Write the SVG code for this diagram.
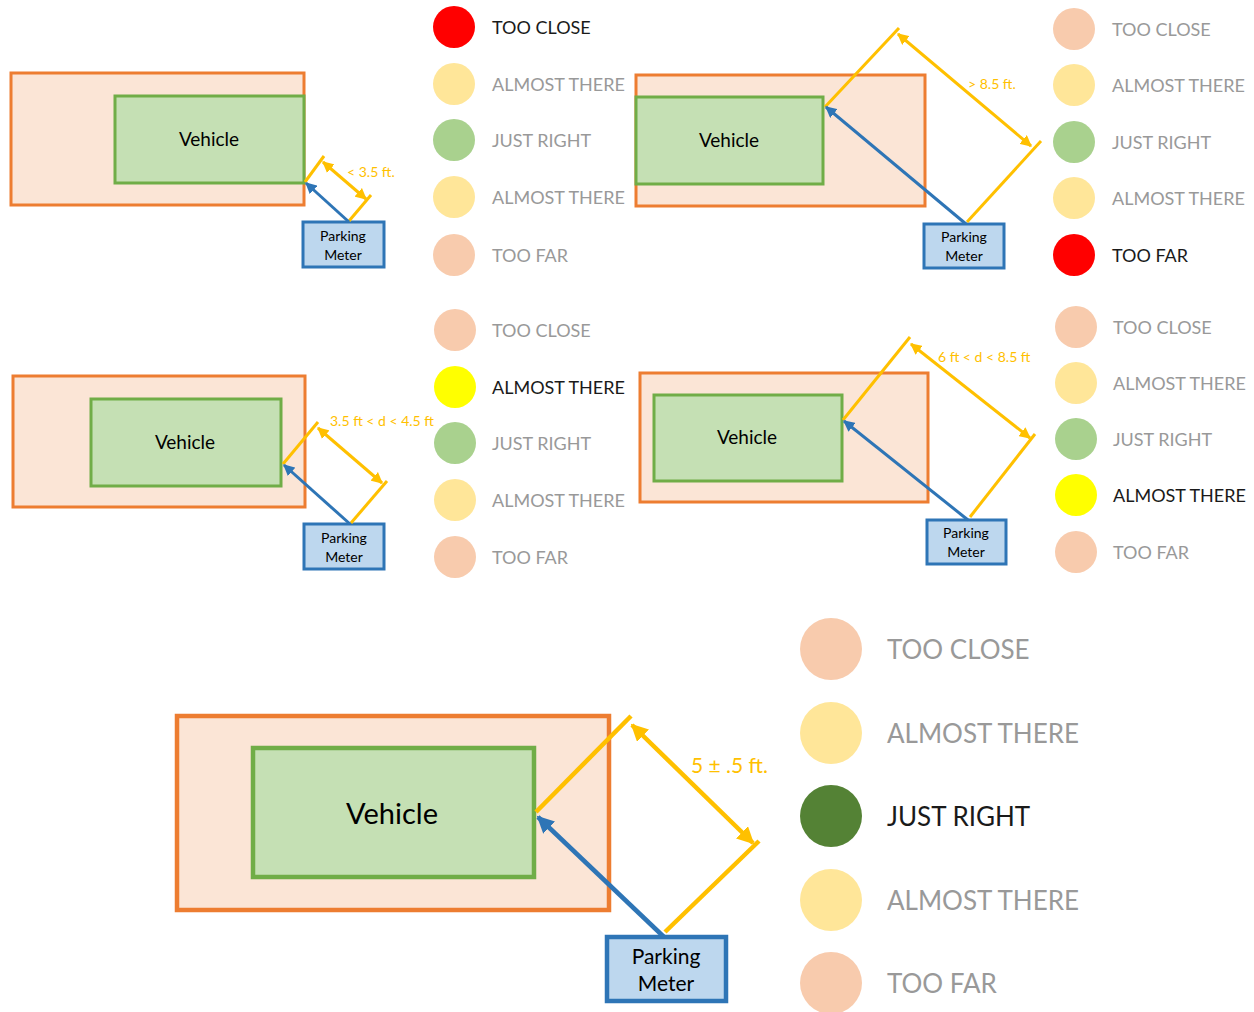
<svg xmlns="http://www.w3.org/2000/svg" width="1254" height="1012" viewBox="0 0 1254 1012">
<style>
text{font-family:Lato,"Open Sans","Liberation Sans",sans-serif}
.car{fill:#FBE5D6;stroke:#ED7D31;stroke-width:3}
.veh{fill:#C5E0B4;stroke:#70AD47;stroke-width:3}
.met{fill:#BDD7EE;stroke:#2E75B6;stroke-width:3}
.vt{font-size:19px;fill:#000;text-anchor:middle}
.mt{font-size:14px;fill:#000;text-anchor:middle}
.yl{stroke:#FFC000;stroke-width:3;fill:none}
.ya{stroke:#FFC000;stroke-width:3;fill:none;marker-start:url(#ya);marker-end:url(#ya)}
.ba{stroke:#2E75B6;stroke-width:3;fill:none;marker-end:url(#ba)}
.lab{fill:#FFC000;font-size:14px}
.lg{font-size:18px;fill:#999}
.on{fill:#1a1a1a}
.big .car,.big .veh,.big .met{stroke-width:4.5}
.big .yl,.big .ya,.big .ba{stroke-width:4.5}
</style>
<defs>
<marker id="ya" viewBox="0 0 10 10" refX="9" refY="5" markerWidth="3.8" markerHeight="3.8" orient="auto-start-reverse"><path d="M0,0L10,5L0,10z" fill="#FFC000"/></marker>
<marker id="ba" viewBox="0 0 10 10" refX="9" refY="5" markerWidth="3.8" markerHeight="3.8" orient="auto"><path d="M0,0L10,5L0,10z" fill="#2E75B6"/></marker>
</defs>
<rect width="1254" height="1012" fill="#fff"/>

<!-- Panel 1 -->
<g id="p1">
<g id="p1-car"><rect class="car" x="11" y="73" width="293" height="132"/></g>
<g id="p1-vehicle"><rect class="veh" x="115" y="96" width="189" height="87"/><text class="vt" x="209" y="146">Vehicle</text></g>
<g id="p1-meter"><rect class="met" x="303" y="222" width="81" height="45"/><text class="mt" x="343" y="241">Parking</text><text class="mt" x="343" y="260">Meter</text></g>
<g id="p1-conn">
<path class="yl" d="M305,182L324,156"/><path class="yl" d="M349,221L371,195"/>
<path class="ya" d="M323,162L366,199"/>
<path class="ba" d="M349,222L306,183"/>
<text class="lab" x="347" y="177">&lt; 3.5 ft.</text>
</g>
</g>
<g id="leg1">
<circle cx="454" cy="27" r="21" fill="#FF0000"/><text class="lg on" x="492" y="34">TOO CLOSE</text>
<circle cx="454" cy="84" r="21" fill="#FFE699"/><text class="lg" x="492" y="91">ALMOST THERE</text>
<circle cx="454" cy="140" r="21" fill="#A9D18E"/><text class="lg" x="492" y="147">JUST RIGHT</text>
<circle cx="454" cy="197" r="21" fill="#FFE699"/><text class="lg" x="492" y="204">ALMOST THERE</text>
<circle cx="454" cy="255" r="21" fill="#F8CBAD"/><text class="lg" x="492" y="262">TOO FAR</text>
</g>

<!-- Panel 2 -->
<g id="p2">
<g id="p2-car"><rect class="car" x="636" y="75" width="289" height="131"/></g>
<g id="p2-vehicle"><rect class="veh" x="636" y="97" width="187" height="87"/><text class="vt" x="729" y="147">Vehicle</text></g>
<g id="p2-meter"><rect class="met" x="924" y="224" width="80" height="44"/><text class="mt" x="964" y="242">Parking</text><text class="mt" x="964" y="261">Meter</text></g>
<g id="p2-conn">
<path class="yl" d="M825,107L899,28"/><path class="yl" d="M967,222L1041,141"/>
<path class="ya" d="M898,34L1031,146"/>
<path class="ba" d="M966,224L826,107"/>
<text class="lab" x="968" y="89">&gt; 8.5 ft.</text>
</g>
</g>
<g id="leg2">
<circle cx="1074" cy="29" r="21" fill="#F8CBAD"/><text class="lg" x="1112" y="36">TOO CLOSE</text>
<circle cx="1074" cy="85" r="21" fill="#FFE699"/><text class="lg" x="1112" y="92">ALMOST THERE</text>
<circle cx="1074" cy="142" r="21" fill="#A9D18E"/><text class="lg" x="1112" y="149">JUST RIGHT</text>
<circle cx="1074" cy="198" r="21" fill="#FFE699"/><text class="lg" x="1112" y="205">ALMOST THERE</text>
<circle cx="1074" cy="255" r="21" fill="#FF0000"/><text class="lg on" x="1112" y="262">TOO FAR</text>
</g>

<!-- Panel 3 -->
<g id="p3">
<g id="p3-car"><rect class="car" x="13" y="376" width="292" height="131"/></g>
<g id="p3-vehicle"><rect class="veh" x="91" y="399" width="190" height="87"/><text class="vt" x="185" y="449">Vehicle</text></g>
<g id="p3-meter"><rect class="met" x="304" y="524" width="80" height="45"/><text class="mt" x="344" y="543">Parking</text><text class="mt" x="344" y="562">Meter</text></g>
<g id="p3-conn">
<path class="yl" d="M283,464L318,422"/><path class="yl" d="M351,523L387,481"/>
<path class="ya" d="M318,428L382,483"/>
<path class="ba" d="M350,524L284,465"/>
<text class="lab" x="330" y="426">3.5 ft &lt; d &lt; 4.5 ft</text>
</g>
</g>
<g id="leg3">
<circle cx="455" cy="330" r="21" fill="#F8CBAD"/><text class="lg" x="492" y="337">TOO CLOSE</text>
<circle cx="455" cy="387" r="21" fill="#FFFF00"/><text class="lg on" x="492" y="394">ALMOST THERE</text>
<circle cx="455" cy="443" r="21" fill="#A9D18E"/><text class="lg" x="492" y="450">JUST RIGHT</text>
<circle cx="455" cy="500" r="21" fill="#FFE699"/><text class="lg" x="492" y="507">ALMOST THERE</text>
<circle cx="455" cy="557" r="21" fill="#F8CBAD"/><text class="lg" x="492" y="564">TOO FAR</text>
</g>

<!-- Panel 4 -->
<g id="p4">
<g id="p4-car"><rect class="car" x="640" y="373" width="288" height="129"/></g>
<g id="p4-vehicle"><rect class="veh" x="654" y="395" width="188" height="86"/><text class="vt" x="747" y="444">Vehicle</text></g>
<g id="p4-meter"><rect class="met" x="927" y="520" width="79" height="44"/><text class="mt" x="966" y="538">Parking</text><text class="mt" x="966" y="557">Meter</text></g>
<g id="p4-conn">
<path class="yl" d="M843,420L910,337"/><path class="yl" d="M970,517L1035,434"/>
<path class="ya" d="M911,344L1030,438"/>
<path class="ba" d="M968,520L844,421"/>
<text class="lab" x="938" y="362">6 ft &lt; d &lt; 8.5 ft</text>
</g>
</g>
<g id="leg4">
<circle cx="1076" cy="327" r="21" fill="#F8CBAD"/><text class="lg" x="1113" y="334">TOO CLOSE</text>
<circle cx="1076" cy="383" r="21" fill="#FFE699"/><text class="lg" x="1113" y="390">ALMOST THERE</text>
<circle cx="1076" cy="439" r="21" fill="#A9D18E"/><text class="lg" x="1113" y="446">JUST RIGHT</text>
<circle cx="1076" cy="495" r="21" fill="#FFFF00"/><text class="lg on" x="1113" y="502">ALMOST THERE</text>
<circle cx="1076" cy="552" r="21" fill="#F8CBAD"/><text class="lg" x="1113" y="559">TOO FAR</text>
</g>

<!-- Panel 5 -->
<g id="p5" class="big">
<g id="p5-car"><rect class="car" x="177" y="716" width="432" height="194"/></g>
<g id="p5-vehicle"><rect class="veh" x="253" y="748" width="281" height="129"/><text class="vt" x="392" y="824" style="font-size:29px">Vehicle</text></g>
<g id="p5-meter"><rect class="met" x="607" y="937" width="119" height="64"/><text class="mt" x="666" y="964" style="font-size:21px">Parking</text><text class="mt" x="666" y="991" style="font-size:21px">Meter</text></g>
<g id="p5-conn">
<path class="yl" d="M536,812L631,716"/><path class="yl" d="M665,932L759,841"/>
<path class="ya" d="M632,725L753,843"/>
<path class="ba" d="M664,937L538,817"/>
<text class="lab" x="691" y="773" style="font-size:21px">5 ± .5 ft.</text>
</g>
</g>
<g id="leg5">
<circle cx="831" cy="649" r="31" fill="#F8CBAD"/><text class="lg" x="887" y="659" style="font-size:26px">TOO CLOSE</text>
<circle cx="831" cy="733" r="31" fill="#FFE699"/><text class="lg" x="887" y="743" style="font-size:26px">ALMOST THERE</text>
<circle cx="831" cy="816" r="31" fill="#548235"/><text class="lg on" x="887" y="826" style="font-size:26px">JUST RIGHT</text>
<circle cx="831" cy="900" r="31" fill="#FFE699"/><text class="lg" x="887" y="910" style="font-size:26px">ALMOST THERE</text>
<circle cx="831" cy="983" r="31" fill="#F8CBAD"/><text class="lg" x="887" y="993" style="font-size:26px">TOO FAR</text>
</g>
</svg>
